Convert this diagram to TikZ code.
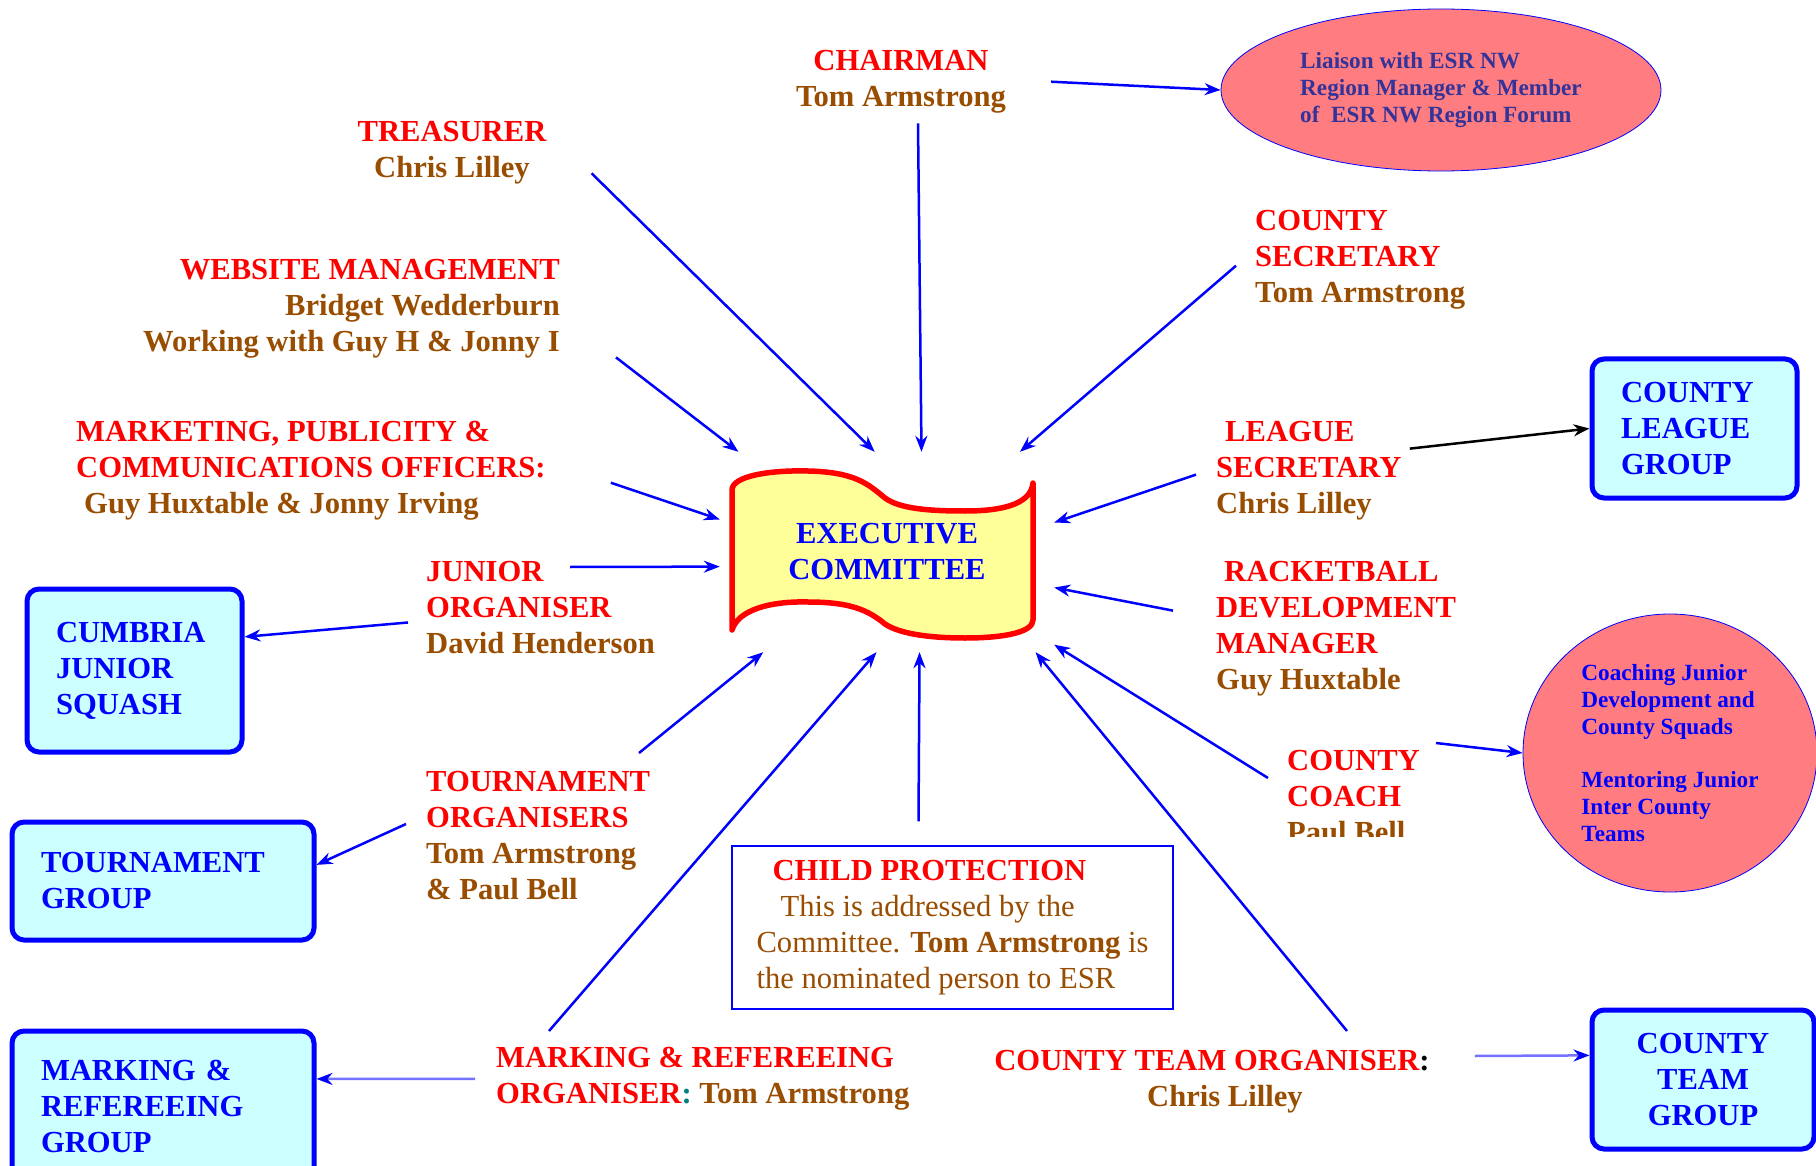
\documentclass[tikz,border=0pt]{standalone}
\usepackage{fontspec}
\setmainfont{Liberation Serif}
\usetikzlibrary{arrows.meta,shapes.geometric}
\definecolor{rolered}{RGB}{255,0,0}
\definecolor{namebrown}{RGB}{153,77,0}
\definecolor{groupfill}{RGB}{204,255,255}
\definecolor{ovalfill}{RGB}{255,124,128}
\definecolor{ovaltext}{RGB}{51,51,153}
\definecolor{bannerfill}{RGB}{255,255,153}
\newcommand{\rolename}[1]{\textcolor{rolered}{#1}}
\begin{document}
\begin{tikzpicture}[x=1pt,y=-1pt,
  office/.style={inner sep=0pt, align=left, text=namebrown, font=\fontsize{30.6}{36}\selectfont\bfseries},
  groupbox/.style={draw=blue, line width=5pt, fill=groupfill, rounded corners=12pt, text=blue,
    inner xsep=29pt, align=left, font=\fontsize{30.6}{36}\selectfont\bfseries},
  remit/.style={ellipse, draw=blue, line width=0.8pt, fill=ovalfill, inner sep=0pt, align=left,
    font=\fontsize{23.2}{27}\selectfont\bfseries},
  feed/.style={blue, line width=2.5pt, -{Stealth[length=16pt,width=12pt]}},
  faint/.style={feed, draw=blue!55, -{Stealth[length=16pt,width=12pt,color=blue]}}]
\fill[white] (0,0) rectangle (1816,1166);
\useasboundingbox (0,0) rectangle (1816,1166);

% the committee banner
\draw[red, line width=5.5pt, fill=bannerfill, line join=round]
  (732,630) -- (732,490) .. controls (732,476) and (770,470) .. (808,471)
  .. controls (855,472) and (868,484) .. (885,498) .. controls (900,509) and (930,511) .. (965,511)
  .. controls (1008,511) and (1031,502) .. (1033,483) -- (1033,620)
  .. controls (1033,632) and (1005,638) .. (965,638) .. controls (930,638) and (900,634) .. (885,624)
  .. controls (868,610) and (850,602) .. (808,602) .. controls (770,601) and (738,610) .. (732,630) -- cycle;
\node[text=blue, align=center, font=\fontsize{30.6}{36}\selectfont\bfseries,
  minimum width=334pt, minimum height=200pt] (exec) at (887,552) {EXECUTIVE\\COMMITTEE};

% officers
\node[office, anchor=north, align=center] (chair) at (901,50) {\rolename{CHAIRMAN}\\Tom Armstrong};
\node[office, anchor=north, align=center] (treas) at (452,121) {\rolename{TREASURER}\\Chris Lilley};
\node[office, anchor=north east, align=right] (web) at (560,259)
  {\rolename{WEBSITE MANAGEMENT}\\Bridget Wedderburn\hspace*{51pt}\\Working with Guy H \& Jonny I};
\node[office, anchor=north west] (mkt) at (76,421)
  {\rolename{MARKETING, PUBLICITY \&}\\\rolename{COMMUNICATIONS OFFICERS:}\\\hspace*{8pt}Guy Huxtable \& Jonny Irving};
\node[office, anchor=north west] (junior) at (426,561) {\rolename{JUNIOR}\\\rolename{ORGANISER}\\David Henderson};
\node[office, anchor=north west] (tourn) at (426,771)
  {\rolename{TOURNAMENT}\\\rolename{ORGANISERS}\\Tom Armstrong\\\& Paul Bell};
\node[office, anchor=north west] (marking) at (496,1047)
  {\rolename{MARKING \& REFEREEING}\\\rolename{ORGANISER}\textcolor{teal}{:} Tom Armstrong};
\node[office, anchor=north, align=center] (team) at (1212,1050)
  {\rolename{COUNTY TEAM ORGANISER}\textcolor{black}{:}\\\hspace*{26pt}Chris Lilley};
\node[office, anchor=north west] (csec) at (1255,210) {\rolename{COUNTY}\\\rolename{SECRETARY}\\Tom Armstrong};
\node[office, anchor=north west] (league) at (1216,421)
  {\hspace*{9pt}\rolename{LEAGUE}\\\rolename{SECRETARY}\\Chris Lilley};
\node[office, anchor=north west] (racket) at (1216,561)
  {\hspace*{8pt}\rolename{RACKETBALL}\\\rolename{DEVELOPMENT}\\\rolename{MANAGER}\\Guy Huxtable};
\begin{scope}
\clip (1250,740) rectangle (1500,836);
\node[office, anchor=north west] (coach) at (1287,750) {\rolename{COUNTY}\\\rolename{COACH}\\Paul Bell};
\end{scope}
\node[draw=blue, line width=1.5pt, minimum width=441pt, minimum height=163pt, align=left, text=namebrown,
  font=\fontsize{30.6}{36}\selectfont] (child) at (952.5,927.5)
  {\hspace*{16pt}\textbf{\rolename{CHILD PROTECTION}}\\\hspace*{24pt}This is addressed by the\\
   Committee. \textbf{Tom Armstrong} is\\the nominated person to ESR};

% groups and remits
\node[groupbox, text width=157pt, minimum height=163pt] (cumbria) at (134.5,670.5) {CUMBRIA\\JUNIOR\\SQUASH};
\node[groupbox, text width=244pt, minimum height=118pt] (tgroup) at (163,881) {TOURNAMENT\\GROUP};
\node[groupbox, text width=244pt, minimum height=150pt] (mgroup) at (163,1106) {MARKING \&\\REFEREEING\\GROUP};
\node[groupbox, text width=147pt, minimum height=139pt] (lgroup) at (1694.5,428.5) {COUNTY\\LEAGUE\\GROUP};
\node[groupbox, text width=164pt, minimum height=139pt, align=center] (tmgroup) at (1703,1079.5) {COUNTY\\TEAM\\GROUP};
\node[remit, text=ovaltext, minimum width=440pt, minimum height=162pt] (liaison) at (1441,90)
  {Liaison with ESR NW\\Region Manager \& Member\\of\ \ ESR NW Region Forum};
\node[remit, text=blue, minimum width=294pt, minimum height=278pt] (coaching) at (1670,753)
  {Coaching Junior\\Development and\\County Squads\\[26pt]Mentoring Junior\\Inter County\\Teams};

% into the committee
\draw[feed] ([shift={(45,-11)}]treas.south east) -- (exec.97);
\draw[feed] ([shift={(56,-1)}]web.south east) -- (exec.146);
\draw[feed] ([shift={(17,10)}]chair.south) -- (exec.71);
\draw[feed] ([shift={(-19,6)}]csec.west) -- (exec.37);
\draw[feed] ([shift={(65,12)}]mkt.east) -- (exec.169);
\draw[feed] ([shift={(144,6)}]junior.north west) -- (exec.185);
\draw[feed] ([shift={(-20,4)}]league.west) -- (exec.10);
\draw[feed] ([shift={(-43,-18)}]racket.west) -- (exec.-12);
\draw[feed] ([shift={(-19,28)}]coach.north west) -- (exec.-29);
\draw[feed] ([shift={(135,-19)}]team.north) -- (exec.-34);
\draw[feed] ([shift={(-34,-24)}]child.north) -- (exec.-72);
\draw[feed] ([shift={(53,-16)}]marking.north west) -- (exec.-96);
\draw[feed] ([shift={(213,-18)}]tourn.north west) -- (exec.-141);

% out to the groups
\draw[feed] ([xshift=45pt]chair.east) -- (liaison.west);
\draw[feed, black] ([shift={(8,-22)}]league.east) -- (lgroup.west);
\draw[feed] ([shift={(-18,15)}]junior.west) -- (cumbria.17);
\draw[feed] ([shift={(-20,53)}]tourn.north west) -- (tgroup.6);
\draw[faint] ([xshift=-21pt]marking.west) -- (mgroup.10);
\draw[feed] ([shift={(149,-7)}]coach.north west) -- (coaching.west);
\draw[faint] ([shift={(45,6)}]team.north east) -- (tmgroup.168);
\end{tikzpicture}
\end{document}
